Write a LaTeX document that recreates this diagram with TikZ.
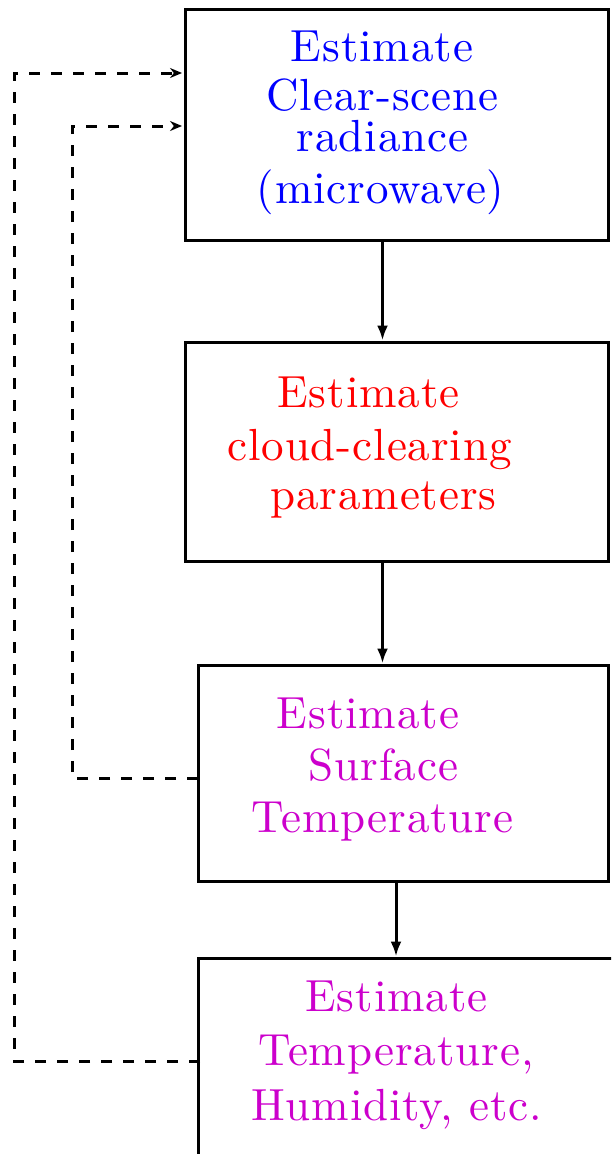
\documentclass[tikz,border=0pt]{standalone}
\usepackage{fontspec}
\setmainfont{lmroman10-regular.otf}[LetterSpace=2]
\usetikzlibrary{arrows.meta,calc}
\definecolor{scenecol}{RGB}{0,0,255}
\definecolor{cloudcol}{RGB}{255,0,0}
\definecolor{retrcol}{RGB}{204,0,204}
\begin{document}
\begin{tikzpicture}[x=1pt,y=-1pt,
  box/.style={draw, line width=3pt, inner sep=0pt},
  lbl/.style={anchor=base, inner sep=0pt, font=\fontsize{45}{50}\selectfont},
  flow/.style={line width=3pt, -{Latex[length=15pt,width=11pt]}},
  feedback/.style={line width=3pt, dash pattern=on 11pt off 11pt,
                   -{Stealth[length=12pt,width=10pt]}}]
\useasboundingbox (0,0) rectangle (611,1154);
\begin{scope}
\clip (0,0) rectangle (611,1154);

% processing steps
\node[box, minimum width=423.5pt, minimum height=231pt] (b1) at (396.75,124.5) {};
\node[box, minimum width=423.5pt, minimum height=219pt] (b2) at (396.75,451.5) {};
\node[box, minimum width=410pt,   minimum height=216pt] (b3) at (403,773) {};
\node[box, minimum width=460pt,   minimum height=260pt] (b4) at (428,1088) {};

% labels
\node[lbl, text=scenecol] (l11) at (382,61)  {Estimate};
\node[lbl, text=scenecol] (l12) at (382.5,110) {Clear-scene};
\node[lbl, text=scenecol] (l13) at (382.5,151) {radiance};
\node[lbl, text=scenecol] (l14) at (380.5,203) {(microwave)};

\node[lbl, text=cloudcol] (l21) at (368.5,407) {Estimate};
\node[lbl, text=cloudcol] (l22) at (369.5,460) {cloud-clearing};
\node[lbl, text=cloudcol] (l23) at (383.5,509) {parameters};

\node[lbl, text=retrcol] (l31) at (368,728) {Estimate};
\node[lbl, text=retrcol] (l32) at (383.5,780) {Surface};
\node[lbl, text=retrcol] (l33) at (382.5,832) {Temperature};

\node[lbl, text=retrcol] (l41) at (396.5,1011) {Estimate};
\node[lbl, text=retrcol] (l42) at (396,1065) {Temperature,};
\node[lbl, text=retrcol] (l43) at (396.5,1120) {Humidity, etc.};

% main flow
\coordinate (a1) at (382.5,0);
\coordinate (a3) at (396,0);
\draw[flow] (b1.south -| a1) -- (b2.north -| a1);
\draw[flow] (b2.south -| a1) -- (b3.north -| a1);
\draw[flow] (b3.south -| a3) -- (b4.north -| a3);

% feedback loops
\coordinate (s3) at (198,778);
\coordinate (s4) at (200,1061);
\coordinate (k1) at (72,126);
\coordinate (k2) at (14.5,73);
\coordinate (t1) at (182,73);
\coordinate (t2) at (182,126);
\draw[feedback] (s3) -| (k1) -- (t2);
\draw[feedback] (s4) -| (k2) -- (t1);
\end{scope}
\end{tikzpicture}
\end{document}
